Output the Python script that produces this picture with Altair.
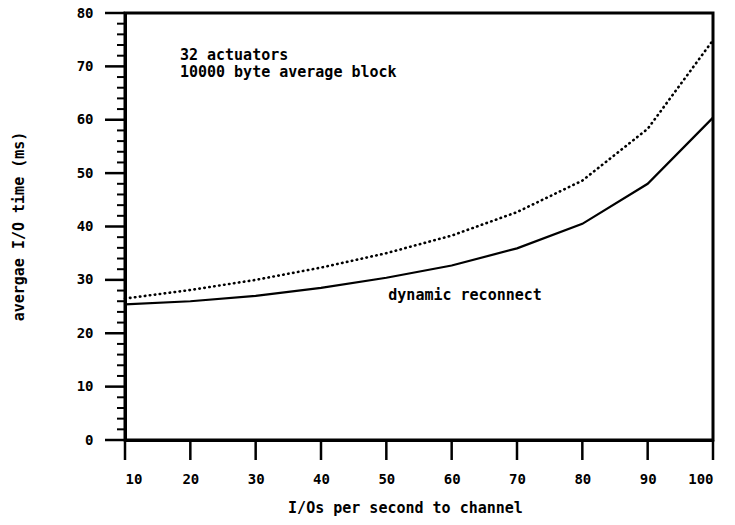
import altair as alt
import pandas as pd

io_rate = [10, 20, 30, 40, 50, 60, 70, 80, 90, 100]
dynamic_reconnect = [25.4, 26.0, 27.0, 28.5, 30.4, 32.7, 35.9, 40.5, 48.0, 60.4]
no_reconnect = [26.5, 28.1, 30.0, 32.3, 35.0, 38.3, 42.7, 48.6, 58.3, 74.9]

x_ticks = [10, 20, 30, 40, 50, 60, 70, 80, 90, 100]
y_ticks = [0, 10, 20, 30, 40, 50, 60, 70, 80]
y_minor = [v for v in range(0, 81, 2) if v % 10 != 0]

notes = ["32 actuators\n10000 byte average block", "dynamic reconnect"]
note_x = [18.4, 50.3]
note_y = [71.2, 26.2]

FONT = "DejaVu Sans Mono"

df = pd.DataFrame({
    "x": io_rate * 2,
    "y": dynamic_reconnect + no_reconnect,
    "series": ["dynamic"] * len(io_rate) + ["static"] * len(io_rate),
})

xs = alt.Scale(domain=[10, 100], nice=False)
ys = alt.Scale(domain=[0, 80], nice=False)

xax = alt.Axis(values=x_ticks, title="I/Os per second to channel",
               titleX=280, titleY=67, titleBaseline="middle", titleAlign="center")
yax = alt.Axis(values=y_ticks, title="avergae I/O time (ms)",
               titleX=-107, titleY=213, titleAngle=270,
               titleBaseline="middle", titleAlign="center")

X = alt.X("x:Q", scale=xs, axis=xax)
Y = alt.Y("y:Q", scale=ys, axis=yax)

solid = alt.Chart(df[df.series == "dynamic"]).mark_line(
    color="black", strokeWidth=2.2
).encode(x=X, y=Y)

dotted = alt.Chart(df[df.series == "static"]).mark_line(
    color="black", strokeWidth=2.6, strokeDash=[0.5, 4.5], strokeCap="round"
).encode(x=X, y=Y)

minor = alt.Chart(pd.DataFrame({"ym": y_minor})).mark_tick(
    color="black", opacity=1, thickness=2, size=8, orient="horizontal", clip=False
).encode(x=alt.value(-4), y=alt.Y("ym:Q", scale=ys))

major_y = alt.Chart(pd.DataFrame({"yt": y_ticks})).mark_tick(
    color="black", opacity=1, thickness=2.5, size=20, orient="horizontal", clip=False
).encode(x=alt.value(-10), y=alt.Y("yt:Q", scale=ys))

major_x = alt.Chart(pd.DataFrame({"xt": x_ticks})).mark_tick(
    color="black", opacity=1, thickness=2.5, size=20, orient="vertical", clip=False
).encode(x=alt.X("xt:Q", scale=xs), y=alt.value(437))

text = alt.Chart(pd.DataFrame({"t": notes, "x": note_x, "y": note_y})).mark_text(
    font=FONT, fontWeight="bold", fontSize=15, align="left", baseline="alphabetic",
    color="black", lineBreak="\n", lineHeight=17
).encode(x=X, y=Y, text="t:N")

chart = alt.layer(solid, dotted, minor, major_y, major_x, text).properties(
    width=588, height=427,
    autosize=alt.AutoSizeParams(type="none"),
    padding={"left": 125, "top": 13, "right": 22, "bottom": 85},
    background="white",
).configure_view(stroke="black", strokeWidth=3).configure_axis(
    ticks=False, domain=True, domainWidth=3, domainColor="black", labelPadding=32,
    labelFont=FONT, labelFontWeight="bold", labelFontSize=14, labelColor="black",
    titleFont=FONT, titleFontWeight="bold", titleFontSize=15, titleColor="black",
    grid=False,
)

chart.save("out.html", embed_options={"renderer": "svg", "actions": False})
